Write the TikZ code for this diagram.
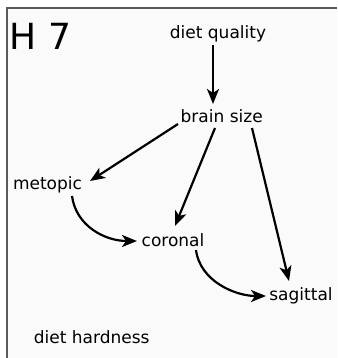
\documentclass[tikz,border=0pt]{standalone}
\usepackage{fontspec}
\setmainfont{DejaVu Sans}
\usetikzlibrary{arrows.meta}
\definecolor{bgc}{HTML}{FAFAFA}
\definecolor{framec}{HTML}{5A5A5A}
\tikzset{
  lbl/.style={inner sep=0pt, anchor=base, font=\fontsize{17}{20}\selectfont},
  edge/.style={line width=2.2pt, -{Stealth[length=15pt,width=12pt,inset=4pt]}}
}
\begin{document}
\begin{tikzpicture}[x=1pt,y=-1pt]
\useasboundingbox (0,0) rectangle (337,358);
\fill[bgc] (7,8) rectangle (337,358);
\draw[framec, line width=1.5pt] (7,358) -- (7,8) -- (337,8);
\node[inner sep=0pt, anchor=base west, font=\fontsize{36}{40}\selectfont] (h7) at (9.5,50) {H 7};
\node[lbl] (dq) at (218,38.5) {diet quality};
\node[lbl] (bs) at (221.7,122.5) {brain size};
\node[lbl] (met) at (47.5,189.3) {metopic};
\node[lbl] (cor) at (173,246.7) {coronal};
\node[lbl] (sag) at (301,300.7) {sagittal};
\node[lbl] (dh) at (91.7,343.3) {diet hardness};
\draw[edge] ([shift={(-5,6.5)}]dq.base) -- ([shift={(-8.7,-18.5)}]bs.base);
\draw[edge] ([shift={(-43.7,1.5)}]bs.base) -- ([shift={(42.5,-8.3)}]met.base);
\draw[edge] ([shift={(-6.7,5.5)}]bs.base) -- ([shift={(2,-20.7)}]cor.base);
\draw[edge] ([shift={(30.3,5.5)}]bs.base) -- ([shift={(-12,-19.7)}]sag.base);
\draw[edge] ([shift={(24.5,6.7)}]met.base) .. controls (76,226) and (105,241) .. ([shift={(-36,-5.7)}]cor.base);
\draw[edge] ([shift={(23,3.3)}]cor.base) .. controls (200,281) and (235,296) .. ([shift={(-35,-4.7)}]sag.base);
\end{tikzpicture}
\end{document}
